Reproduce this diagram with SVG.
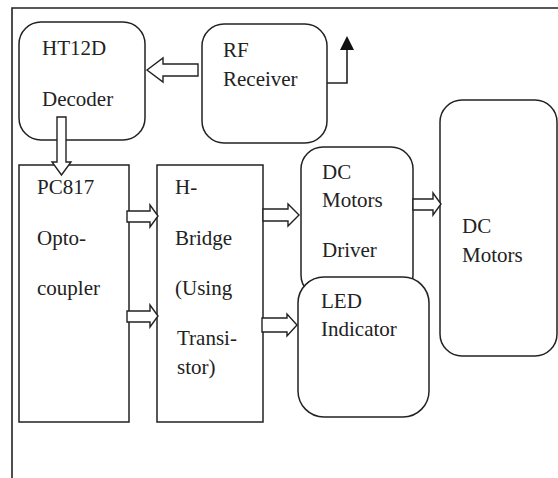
<svg xmlns="http://www.w3.org/2000/svg" width="558" height="478" viewBox="0 0 558 478">
<style>
.box{fill:#fff;stroke:#222;stroke-width:1.5}
text{font-family:"Liberation Serif","Times New Roman",serif;font-size:21px;fill:#222}
.ar{fill:#fff;stroke:#222;stroke-width:1.4;stroke-linejoin:miter}
.ln{fill:none;stroke:#222;stroke-width:1.6}
</style>
<rect width="558" height="478" fill="#fff"/>
<g id="frame">
<path class="ln" d="M12,478 V8 H558"/>
</g>
<g id="ht12d">
<rect class="box" x="19" y="22" width="126" height="118" rx="22"/>
<text x="42" y="55">HT12D</text>
<text x="42" y="106">Decoder</text>
</g>
<g id="rf">
<rect class="box" x="202" y="24" width="125" height="119" rx="22"/>
<text x="223" y="57">RF</text>
<text x="223" y="86">Receiver</text>
</g>
<g id="pc817">
<rect class="box" x="19" y="165" width="110" height="257"/>
<text x="37" y="194">PC817</text>
<text x="37" y="245">Opto-</text>
<text x="37" y="295">coupler</text>
</g>
<g id="hbridge">
<rect class="box" x="157" y="165" width="106" height="257"/>
<text x="175" y="194">H-</text>
<text x="175" y="245">Bridge</text>
<text x="175" y="295">(Using</text>
<text x="177" y="345">Transi-</text>
<text x="177" y="374">stor)</text>
</g>
<g id="driver">
<rect class="box" x="301" y="147" width="112" height="150" rx="22"/>
<text x="322" y="179">DC</text>
<text x="322" y="207">Motors</text>
<text x="322" y="257">Driver</text>
</g>
<g id="led">
<rect class="box" x="298" y="277" width="131" height="140" rx="26"/>
<text x="321" y="308">LED</text>
<text x="321" y="336">Indicator</text>
</g>
<g id="motors">
<rect class="box" x="440" y="100" width="117" height="256" rx="22"/>
<text x="462" y="233">DC</text>
<text x="462" y="262">Motors</text>
</g>
<g id="connectors">
<polygon class="ar" points="147,70 163,58 163,64 198,64 198,76 163,76 163,82"/>
<polygon class="ar" points="57,117 66,117 66,162 71,162 61.5,175 52,162 57,162"/>
<polygon class="ar" points="127,211 150,211 150,205 158,216 150,227 150,222 127,222"/>
<polygon class="ar" points="127,311 150,311 150,305 158,316 150,327 150,322 127,322"/>
<polygon class="ar" points="263,209 288,209 288,204 299,215 288,226 288,221 263,221"/>
<polygon class="ar" points="262,318 287,318 287,314 297,325 287,336 287,332 262,332"/>
<polygon class="ar" points="413,199 433,199 433,193 441,204 433,215 433,210 413,210"/>
<path class="ln" d="M327,83 H347 V48"/>
<polygon points="340,50 354,50 347,36" fill="#111"/>
</g>
</svg>
